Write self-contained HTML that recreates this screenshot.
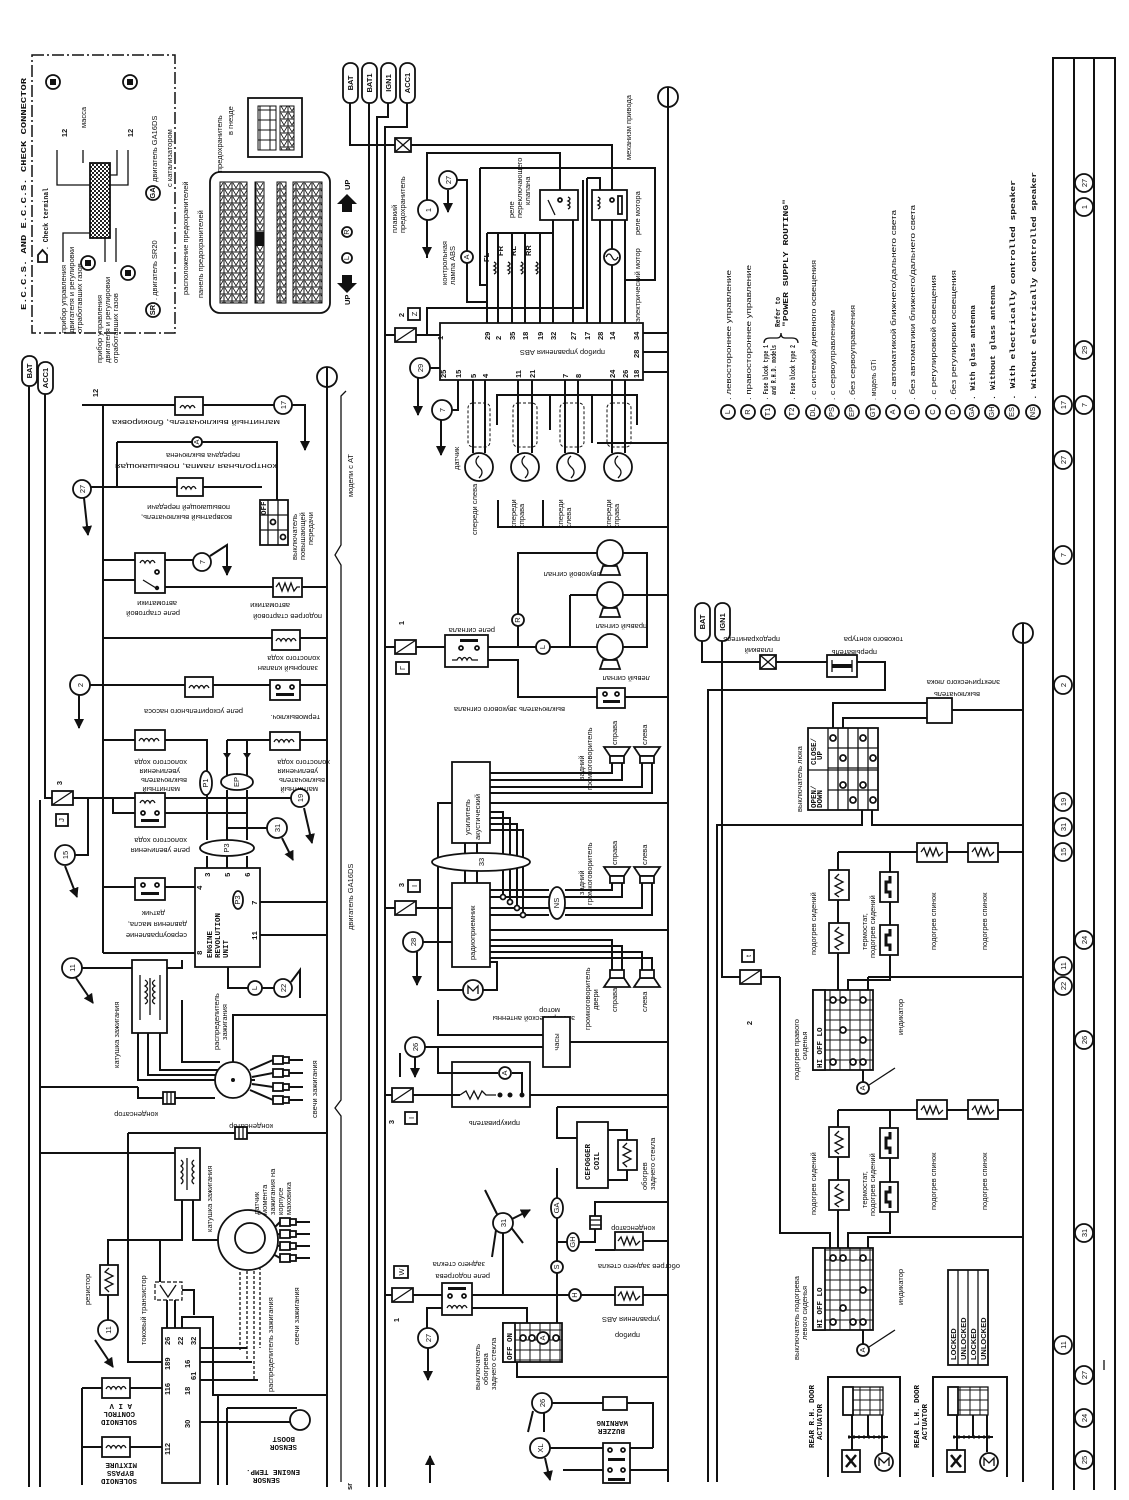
<!DOCTYPE html>
<html><head><meta charset="utf-8">
<style>
html,body{margin:0;padding:0;background:#fff;}
svg{display:block}
text{font-family:"Liberation Sans","DejaVu Sans",sans-serif;font-size:7.5px;fill:#111}
.m{font-family:"Liberation Mono","DejaVu Sans Mono",monospace;font-weight:bold}
.b{font-weight:bold}
.w{fill:none;stroke:#111;stroke-width:2}
.t{fill:none;stroke:#111;stroke-width:1.3}
.f{fill:#fff;stroke:#111;stroke-width:1.8}
.k{fill:#111;stroke:none}
</style></head><body>
<svg xmlns="http://www.w3.org/2000/svg" width="1129" height="1500" viewBox="0 0 1129 1500">
<defs>
<marker id="ar" viewBox="0 0 10 10" refX="9" refY="5" markerWidth="5" markerHeight="5" orient="auto"><path d="M0,0 L10,5 L0,10 z" fill="#111"/></marker>
<pattern id="chk" width="4" height="4" patternUnits="userSpaceOnUse"><rect width="4" height="4" fill="#fff"/><rect width="2" height="2" fill="#222"/><rect x="2" y="2" width="2" height="2" fill="#222"/></pattern>
<pattern id="grd" width="8" height="7" patternUnits="userSpaceOnUse"><rect width="8" height="7" fill="#fff" stroke="#111" stroke-width="1"/><path d="M1,1 L4,6 L7,1" fill="none" stroke="#111" stroke-width="0.8"/></pattern>
<pattern id="cel" width="10" height="10" patternUnits="userSpaceOnUse"><rect width="10" height="10" fill="#fff" stroke="#111" stroke-width="1"/></pattern>
</defs>
<rect width="1129" height="1500" fill="#fff"/>

<!-- ============ ECCS CHECK CONNECTOR ============ -->
<text class="m" transform="translate(26,310) rotate(-90)" textLength="232" lengthAdjust="spacingAndGlyphs" font-size="9">E.C.C.S. AND E.C.C.S. CHECK CONNECTOR</text>
<rect x="32" y="55" width="143" height="278" fill="none" stroke="#111" stroke-width="1.5" stroke-dasharray="12,3,2,3"/>
<path d="M38,262 h9 v-7 l-4.5,-5 l-4.5,5 z" class="f"/>
<text class="m" transform="translate(48,250) rotate(-90)" textLength="62" lengthAdjust="spacingAndGlyphs" font-size="7">. Check terminal</text>
<rect x="90" y="163" width="20" height="75" fill="url(#chk)" stroke="#111" stroke-width="1.8"/>
<path class="t" d="M57,150V185H90 M83,150V163 M117,150V175H110 M128,150V185H110 M63,262V233H90 M105,238V262 M116,228V262"/>
<text class="b" transform="translate(67,133) rotate(-90)" text-anchor="middle" font-size="14">12</text>
<text transform="translate(86,128) rotate(-90)" font-size="7.5">масса</text>
<text class="b" transform="translate(133,133) rotate(-90)" text-anchor="middle" font-size="14">12</text>
<circle cx="53" cy="82" r="7" class="f"/><rect x="50" y="79" width="6" height="6" class="k"/>
<circle cx="130" cy="82" r="7" class="f"/><rect x="127" y="79" width="6" height="6" class="k"/>
<circle cx="88" cy="263" r="7" class="f"/><rect x="85" y="260" width="6" height="6" class="k"/>
<circle cx="128" cy="273" r="7" class="f"/><rect x="125" y="270" width="6" height="6" class="k"/>
<text transform="translate(66,333) rotate(-90)" font-size="7.5">прибор управления</text>
<text transform="translate(74,333) rotate(-90)" font-size="7.5">двигателя и регулировки</text>
<text transform="translate(82,333) rotate(-90)" font-size="7.5">отработавших газов</text>
<text transform="translate(102,363) rotate(-90)" font-size="7.5">прибор управления</text>
<text transform="translate(110,363) rotate(-90)" font-size="7.5">двигателя и регулировки</text>
<text transform="translate(118,363) rotate(-90)" font-size="7.5">отработавших газов</text>
<circle cx="153" cy="310" r="7" class="f"/><text class="b" transform="translate(155,310) rotate(-90)" text-anchor="middle" font-size="5">SR</text>
<text transform="translate(157,300) rotate(-90)" font-size="8.5">. двигатель SR20</text>
<circle cx="153" cy="193" r="7" class="f"/><text class="b" transform="translate(155,193) rotate(-90)" text-anchor="middle" font-size="5">GA</text>
<text transform="translate(157,182) rotate(-90)" font-size="8.5">двигатель GA16DS</text>
<text transform="translate(172,187) rotate(-90)" font-size="11">с катализатором</text>

<!-- ============ FUSE PANEL ============ -->
<text transform="translate(222,172) rotate(-90)" font-size="7.5">предохранитель</text>
<text transform="translate(233,135) rotate(-90)" font-size="7.5">в гнезде</text>
<rect x="248" y="98" width="54" height="59" class="f"/>
<rect x="258" y="106" width="18" height="44" fill="url(#cel)" stroke="#111"/>
<rect x="280" y="106" width="14" height="44" fill="url(#grd)" stroke="#111"/>
<text transform="translate(188,295) rotate(-90)" font-size="7.5">расположение предохранителей</text>
<text transform="translate(203,298) rotate(-90)" font-size="7.5">панель предохранителей</text>
<rect x="210" y="172" width="120" height="141" rx="10" class="f"/>
<rect x="220" y="182" width="27" height="121" fill="url(#grd)" stroke="#111"/>
<rect x="255" y="182" width="9" height="121" fill="url(#grd)" stroke="#111"/>
<rect x="255" y="232" width="9" height="14" class="k"/>
<rect x="277" y="182" width="9" height="121" fill="url(#grd)" stroke="#111"/>
<rect x="293" y="182" width="29" height="121" fill="url(#grd)" stroke="#111"/>
<text class="b" transform="translate(350,305) rotate(-90)" font-size="6">UP</text>
<path d="M342,283 h10 v-8 h5 l-10,-10 l-10,10 h5z" transform="rotate(180 347 279)" class="k"/>
<circle cx="347" cy="258" r="5" class="f"/><text transform="translate(349,258) rotate(-90)" text-anchor="middle" font-size="5">L</text>
<circle cx="347" cy="232" r="5" class="f"/><text transform="translate(349,232) rotate(-90)" text-anchor="middle" font-size="5">R</text>
<path d="M342,212 h10 v-8 h5 l-10,-10 l-10,10 h5z" class="k"/>
<text class="b" transform="translate(350,190) rotate(-90)" font-size="6">UP</text>

<!-- ============ LEFT BUS ============ -->
<rect x="22" y="356" width="15" height="30" rx="7" class="f"/><text class="b" transform="translate(32,371) rotate(-90)" text-anchor="middle" font-size="7">BAT</text>
<rect x="38" y="362" width="15" height="32" rx="7" class="f"/><text class="b" transform="translate(48,378) rotate(-90)" text-anchor="middle" font-size="7">ACC1</text>
<g class="w">
<path d="M29,386V1487 M45,394V798H52 M40,800V1487"/>
<path class="t" d="M346,391 L341,396 V545 L335,555 L341,565 V1100 L335,1108 L341,1116 V1482"/>
<path d="M327,387V1487"/>
</g>
<circle cx="327" cy="377" r="10" class="f"/><path d="M327,367V387" class="w"/>
<text transform="translate(353,497) rotate(-90)" font-size="8.5">модели с AT</text>
<text transform="translate(353,930) rotate(-90)" font-size="8.5">двигатель GA16DS</text>
<text class="b" transform="translate(352,1490) rotate(-90)" font-size="6">sr</text>

<!-- ============ AT SECTION ============ -->
<text class="b" transform="translate(98,393) rotate(-90)" text-anchor="middle" font-size="14">12</text>
<g class="w">
<path d="M82,405H175 M203,405H274 M292,405H305V450" marker-end="url(#ar)"/>
<path d="M103,405V953 M117,442V487 M117,442H277V500 M90,487H177 M203,487H262"/>
<path d="M84,498L88,535" marker-end="url(#ar)"/>
</g>
<rect x="175" y="397" width="28" height="18" class="f"/><path class="t" d="M180,408q2.5,-5 5,0q2.5,-5 5,0q2.5,-5 5,0"/>
<circle cx="283" cy="405" r="9" class="f"/><text transform="translate(286,405) rotate(-90)" text-anchor="middle" font-size="8">17</text>
<text transform="translate(280,420) rotate(180)" textLength="168" lengthAdjust="spacingAndGlyphs">магнитный выключатель, блокировка</text>
<circle cx="197" cy="442" r="5" class="f"/><text transform="translate(199,442) rotate(-90)" text-anchor="middle" font-size="5">A</text>
<text transform="translate(240,453) rotate(180)">передача выключена</text>
<text transform="translate(277,464) rotate(180)" textLength="162" lengthAdjust="spacingAndGlyphs">контрольная лампа, повышающая</text>
<rect x="177" y="478" width="26" height="18" class="f"/><path class="t" d="M181,489q2.5,-5 5,0q2.5,-5 5,0q2.5,-5 5,0"/>
<circle cx="82" cy="489" r="9" class="f"/><text transform="translate(85,489) rotate(-90)" text-anchor="middle" font-size="8">27</text>
<text transform="translate(230,505) rotate(180)">повышающей передачи</text>
<text transform="translate(232,515) rotate(180)">возвратный выключатель,</text>
<rect x="260" y="500" width="28" height="45" class="f"/><path class="t" d="M268,500V545 M278,500V545 M260,515H288 M260,530H288"/>
<circle cx="273" cy="522" r="2.5" class="f"/><circle cx="283" cy="537" r="2.5" class="f"/>
<text class="m" transform="translate(266,515) rotate(-90)" font-size="5">OFF</text>
<text transform="translate(297,560) rotate(-90)" font-size="7">выключатель</text>
<text transform="translate(305,560) rotate(-90)" font-size="7">повышающей</text>
<text transform="translate(313,545) rotate(-90)" font-size="7">передачи</text>

<!-- ============ ENGINE SECTION ============ -->
<g class="w">
<path d="M103,560H135 M165,560H193 M103,580H135 M165,587H273 M302,587H327"/>
<path d="M210,556L227,545V575" marker-end="url(#ar)"/>
<path d="M103,638H272 M300,638H327"/>
<path d="M90,685H185 M213,685H270 M300,685H327"/>
<path d="M79,695V728" marker-end="url(#ar)"/>
<path d="M103,740H135 M165,740H207V775 M207,791V840 M227,740H270 M300,740H327 M227,740V775 M247,740V775 M227,790V840 M247,790V840"/>
<path d="M73,798H135 M165,798H291 M113,798V813H135 M165,813H247"/>
<path d="M88,798V855H75 M65,866L77,897" marker-end="url(#ar)"/>
<path d="M227,828H267 M282,838L293,860" marker-end="url(#ar)"/>
<path d="M304,808L312,843" marker-end="url(#ar)"/>
<path d="M207,856V868 M227,856V868 M247,856V868"/>
<path d="M103,887H135 M165,887H195 M260,902H327 M260,935H327 M103,953H195"/>
<path d="M228,967V988H248 M262,988H274 M291,982L300,970V998" />
<path d="M82,968H182V960"/>
<path d="M76,978L93,1003" marker-end="url(#ar)"/>
</g>
<rect x="135" y="553" width="30" height="40" class="f"/>
<path class="t" d="M140,563q2.5,-5 5,0q2.5,-5 5,0q2.5,-5 5,0 M143,580L156,588"/><circle cx="157" cy="572" r="2" class="f"/><circle cx="157" cy="588" r="2.2" class="k"/>
<circle cx="202" cy="562" r="9" class="f"/><text transform="translate(205,562) rotate(-90)" text-anchor="middle" font-size="8">7</text>
<text transform="translate(180,611) rotate(180)">реле стартовой</text>
<text transform="translate(177,601) rotate(180)">автоматики</text>
<rect x="273" y="578" width="29" height="19" class="f"/><polyline class="t" points="276,587 279,583 282,591 285,583 288,591 291,583 294,591 297,587 300,587"/>
<text transform="translate(290,603) rotate(180)">автоматики</text>
<text transform="translate(322,614) rotate(180)">подогрев стартовой</text>
<rect x="272" y="630" width="28" height="20" class="f"/><path class="t" d="M276,641q2.5,-5 5,0q2.5,-5 5,0q2.5,-5 5,0q2.5,-5 5,0"/>
<text transform="translate(320,656) rotate(180)">холостого хода</text>
<text transform="translate(318,666) rotate(180)">запорный клапан</text>
<circle cx="80" cy="685" r="10" class="f"/><text transform="translate(83,685) rotate(-90)" text-anchor="middle" font-size="9">2</text>
<rect x="185" y="677" width="28" height="20" class="f"/><path class="t" d="M189,688q2.5,-5 5,0q2.5,-5 5,0q2.5,-5 5,0q2.5,-5 5,0"/>
<rect x="270" y="680" width="30" height="20" class="f"/><circle cx="278" cy="687" r="2" class="f"/><circle cx="292" cy="687" r="2" class="f"/><rect x="276" y="693" width="18" height="3" class="k"/>
<text transform="translate(243,709) rotate(180)">реле ускорительного насоса</text>
<text transform="translate(320,715) rotate(180)">термовыключ.</text>
<rect x="135" y="730" width="30" height="20" class="f"/><path class="t" d="M139,741q2.5,-5 5,0q2.5,-5 5,0q2.5,-5 5,0q2.5,-5 5,0"/>
<rect x="270" y="732" width="30" height="18" class="f"/><path class="t" d="M274,742q2.5,-5 5,0q2.5,-5 5,0q2.5,-5 5,0q2.5,-5 5,0"/>
<path d="M223,753h8l-4,6z M243,753h8l-4,6z" class="k"/>
<text transform="translate(187,760) rotate(180)">холостого хода</text>
<text transform="translate(180,769) rotate(180)">увеличения</text>
<text transform="translate(187,778) rotate(180)">выключатель</text>
<text transform="translate(180,787) rotate(180)">магнитный</text>
<text transform="translate(330,760) rotate(180)">холостого хода</text>
<text transform="translate(318,769) rotate(180)">увеличения</text>
<text transform="translate(325,778) rotate(180)">выключатель</text>
<text transform="translate(318,787) rotate(180)">магнитный</text>
<ellipse cx="206" cy="783" rx="6" ry="12" class="f"/><text transform="translate(208,783) rotate(-90)" text-anchor="middle" font-size="5">P1</text>
<ellipse cx="237" cy="782" rx="16" ry="8" class="f"/><text transform="translate(239,782) rotate(-90)" text-anchor="middle" font-size="5">EP</text>
<ellipse cx="227" cy="848" rx="27" ry="8" class="f"/><text transform="translate(229,848) rotate(-90)" text-anchor="middle" font-size="5">P3</text>
<rect x="52" y="791" width="21" height="14" class="f"/><path class="t" d="M52,805L73,791"/>
<text class="b" transform="translate(62,783) rotate(-90)" text-anchor="middle" font-size="13">3</text>
<rect x="56" y="814" width="12" height="12" class="f"/><text transform="translate(64,820) rotate(-90)" text-anchor="middle" font-size="7">J</text>
<circle cx="300" cy="798" r="9" class="f"/><text transform="translate(303,798) rotate(-90)" text-anchor="middle" font-size="8">19</text>
<rect x="135" y="793" width="30" height="34" class="f"/><path class="t" d="M140,803q2.5,-5 5,0q2.5,-5 5,0q2.5,-5 5,0"/><circle cx="143" cy="813" r="2" class="f"/><circle cx="157" cy="813" r="2" class="f"/><rect x="141" y="819" width="18" height="3" class="k"/>
<circle cx="65" cy="855" r="10" class="f"/><text transform="translate(68,855) rotate(-90)" text-anchor="middle" font-size="8">15</text>
<circle cx="277" cy="828" r="10" class="f"/><text transform="translate(280,828) rotate(-90)" text-anchor="middle" font-size="8">31</text>
<text transform="translate(187,838) rotate(180)">холостого хода</text>
<text transform="translate(190,848) rotate(180)">реле увеличения</text>
<rect x="195" y="868" width="65" height="99" class="f"/>
<text class="m" transform="translate(212,958) rotate(-90)" font-size="7">ENGINE</text>
<text class="m" transform="translate(220,958) rotate(-90)" font-size="7">REVOLUTION</text>
<text class="m" transform="translate(228,958) rotate(-90)" font-size="7">UNIT</text>
<ellipse cx="238" cy="900" rx="5" ry="9" class="f"/><text transform="translate(240,900) rotate(-90)" text-anchor="middle" font-size="4.5">P3</text>
<text class="m" transform="translate(210,877) rotate(-90)" font-size="6">3</text><text class="m" transform="translate(230,877) rotate(-90)" font-size="6">5</text><text class="m" transform="translate(250,877) rotate(-90)" font-size="6">6</text>
<text class="m" transform="translate(202,890) rotate(-90)" font-size="6">4</text><text class="m" transform="translate(257,905) rotate(-90)" font-size="6">7</text><text class="m" transform="translate(257,940) rotate(-90)" font-size="6">11</text><text class="m" transform="translate(202,955) rotate(-90)" font-size="6">8</text>
<rect x="135" y="878" width="30" height="22" class="f"/><circle cx="143" cy="885" r="2" class="f"/><circle cx="157" cy="885" r="2" class="f"/><rect x="141" y="892" width="18" height="3" class="k"/>
<text transform="translate(165,911) rotate(180)">датчик</text>
<text transform="translate(187,922) rotate(180)">давления масла,</text>
<text transform="translate(187,933) rotate(180)">сервоуправление</text>
<circle cx="255" cy="988" r="7" class="f"/><text transform="translate(257,988) rotate(-90)" text-anchor="middle" font-size="6">L</text>
<circle cx="283" cy="988" r="9" class="f"/><text transform="translate(286,988) rotate(-90)" text-anchor="middle" font-size="8">22</text>
<circle cx="72" cy="968" r="10" class="f"/><text transform="translate(75,968) rotate(-90)" text-anchor="middle" font-size="8">11</text>

<!-- ============ IGNITION ============ -->
<g class="w">
<path d="M138,1033V1080H215 M148,1033V1075H216 M160,1033V1070H218 M182,1000V1062H220"/>
<path d="M40,1087H138 M138,1087V1098H163 M175,1098H215"/>
<path d="M233,1062V1015H327"/>
<path d="M128,1133H235 M247,1133H327 M128,1133V1362H162"/>
<path d="M40,1153H182V1148"/>
<path d="M182,1200V1240H108V1265 M193,1200V1240H222 M160,1240V1282"/>
<path d="M108,1295V1320 M95,1340L113,1367" marker-end="url(#ar)"/>
<path d="M167,1300V1328 M175,1300V1328"/>
<path d="M182,1328V1317H213V1395H327 M194,1315V1290H182"/>
<path d="M200,1348H247 M200,1362H252 M200,1380H258 M227,1408H297 M200,1422H290"/>
<path d="M82,1388V1485 M82,1388H102 M130,1388H162 M82,1447H102 M130,1447H162"/>
<path d="M218,1395V1485 M227,1408V1485"/>
<path d="M245,1080H255 M250,1070L273,1060 M252,1077L273,1073 M252,1084L273,1087 M250,1090L273,1100"/>
<path d="M262,1240L280,1222 M266,1236L280,1234 M266,1244L280,1246 M262,1248L280,1258"/>
</g>
<path class="t" stroke-dasharray="3,2" d="M240,1262V1350 M247,1266V1362 M254,1266V1380 M260,1262V1348"/>
<rect x="132" y="960" width="35" height="73" class="f"/>
<path class="t" d="M140,975V1020 M145,980q5,3 0,6q5,3 0,6q5,3 0,6q5,3 0,6 M155,980q-5,3 0,6q-5,3 0,6q-5,3 0,6q-5,3 0,6 M160,975V1020 M150,978V1015"/>
<text transform="translate(119,1068) rotate(-90)">катушка зажигания</text>
<circle cx="233" cy="1080" r="18" class="f"/><circle cx="233" cy="1080" r="2" class="k"/>
<text transform="translate(219,1050) rotate(-90)">распределитель</text>
<text transform="translate(227,1040) rotate(-90)">зажигания</text>
<g class="f"><rect x="273" y="1056" width="10" height="8"/><rect x="283" y="1057" width="6" height="6"/><rect x="273" y="1069" width="10" height="8"/><rect x="283" y="1070" width="6" height="6"/><rect x="273" y="1083" width="10" height="8"/><rect x="283" y="1084" width="6" height="6"/><rect x="273" y="1096" width="10" height="8"/><rect x="283" y="1097" width="6" height="6"/></g>
<path class="w" d="M289,1060H303 M289,1073H303 M289,1087H303 M289,1100H303"/>
<text transform="translate(317,1118) rotate(-90)">свечи зажигания</text>
<rect x="163" y="1092" width="12" height="12" class="f"/><path class="t" d="M167,1092V1104 M171,1092V1104"/>
<text transform="translate(158,1112) rotate(180)">конденсатор</text>
<rect x="235" y="1127" width="12" height="12" class="f"/><path class="t" d="M239,1127V1139 M243,1127V1139"/>
<text transform="translate(273,1124) rotate(180)">конденсатор</text>
<rect x="175" y="1148" width="25" height="52" class="f"/>
<path class="t" d="M181,1160q4,3 0,6q4,3 0,6q4,3 0,6q4,3 0,6 M194,1160q-4,3 0,6q-4,3 0,6q-4,3 0,6q-4,3 0,6 M187,1158V1190"/>
<text transform="translate(212,1232) rotate(-90)">катушка зажигания</text>
<circle cx="248" cy="1240" r="30" class="f"/><circle cx="250" cy="1238" r="15" class="f"/>
<text transform="translate(259,1215) rotate(-90)" font-size="7">датчик</text>
<text transform="translate(267,1215) rotate(-90)" font-size="7">момента</text>
<text transform="translate(275,1215) rotate(-90)" font-size="7">зажигания на</text>
<text transform="translate(283,1215) rotate(-90)" font-size="7">корпусе</text>
<text transform="translate(291,1215) rotate(-90)" font-size="7">маховика</text>
<g class="f"><rect x="280" y="1218" width="10" height="8"/><rect x="290" y="1219" width="6" height="6"/><rect x="280" y="1230" width="10" height="8"/><rect x="290" y="1231" width="6" height="6"/><rect x="280" y="1242" width="10" height="8"/><rect x="290" y="1243" width="6" height="6"/><rect x="280" y="1254" width="10" height="8"/><rect x="290" y="1255" width="6" height="6"/></g>
<path class="w" d="M296,1222H310 M296,1234H310 M296,1246H310 M296,1258H310"/>
<text transform="translate(299,1345) rotate(-90)">свечи зажигания</text>
<text transform="translate(273,1392) rotate(-90)">распределитель зажигания</text>
<rect x="100" y="1265" width="18" height="30" class="f"/><polyline class="t" points="109,1268 105,1272 113,1276 105,1280 113,1284 105,1288 109,1292"/>
<text transform="translate(90,1305) rotate(-90)">резистор</text>
<circle cx="108" cy="1330" r="10" class="f"/><text transform="translate(111,1330) rotate(-90)" text-anchor="middle" font-size="8">11</text>
<rect x="155" y="1282" width="27" height="18" fill="#fff" stroke="#111" stroke-width="1.2" stroke-dasharray="4,2"/><path class="t" d="M160,1285L168,1297L176,1285"/>
<text transform="translate(146,1345) rotate(-90)">токовый транзистор</text>
<rect x="162" y="1328" width="38" height="155" class="f"/>
<g class="m" font-size="6">
<text transform="translate(170,1345) rotate(-90)">26</text><text transform="translate(183,1345) rotate(-90)">22</text><text transform="translate(196,1345) rotate(-90)">32</text>
<text transform="translate(170,1370) rotate(-90)">189</text><text transform="translate(190,1368) rotate(-90)">16</text><text transform="translate(196,1380) rotate(-90)">61</text>
<text transform="translate(170,1395) rotate(-90)">116</text><text transform="translate(190,1395) rotate(-90)">18</text>
<text transform="translate(190,1428) rotate(-90)">30</text><text transform="translate(170,1455) rotate(-90)">112</text>
</g>
<circle cx="300" cy="1420" r="10" class="f"/>
<text class="m" transform="translate(295,1437) rotate(180)" font-size="6">BOOST</text>
<text class="m" transform="translate(297,1445) rotate(180)" font-size="6">SENSOR</text>
<text class="m" transform="translate(300,1470) rotate(180)" font-size="6">ENGINE TEMP.</text>
<text class="m" transform="translate(280,1478) rotate(180)" font-size="6">SENSOR</text>
<rect x="102" y="1378" width="28" height="20" class="f"/><path class="t" d="M106,1389q2.5,-5 5,0q2.5,-5 5,0q2.5,-5 5,0q2.5,-5 5,0"/>
<text class="m" transform="translate(132,1404) rotate(180)" font-size="6">A I V</text>
<text class="m" transform="translate(135,1412) rotate(180)" font-size="6">CONTROL</text>
<text class="m" transform="translate(137,1420) rotate(180)" font-size="6">SOLENOID</text>
<rect x="102" y="1437" width="28" height="20" class="f"/><path class="t" d="M106,1448q2.5,-5 5,0q2.5,-5 5,0q2.5,-5 5,0q2.5,-5 5,0"/>
<text class="m" transform="translate(137,1463) rotate(180)" font-size="6">MIXTURE</text>
<text class="m" transform="translate(134,1471) rotate(180)" font-size="6">BYPASS</text>
<text class="m" transform="translate(137,1479) rotate(180)" font-size="6">SOLENOID</text>

<!-- ============ MIDDLE BUS ============ -->
<rect x="343" y="63" width="15" height="40" rx="7" class="f"/><text class="b" transform="translate(353,83) rotate(-90)" text-anchor="middle" font-size="7">BAT</text>
<rect x="362" y="63" width="15" height="40" rx="7" class="f"/><text class="b" transform="translate(372,83) rotate(-90)" text-anchor="middle" font-size="7">BAT1</text>
<rect x="381" y="63" width="15" height="40" rx="7" class="f"/><text class="b" transform="translate(391,83) rotate(-90)" text-anchor="middle" font-size="7">IGN1</text>
<rect x="400" y="63" width="15" height="40" rx="7" class="f"/><text class="b" transform="translate(410,83) rotate(-90)" text-anchor="middle" font-size="7">ACC1</text>
<g class="w">
<path d="M350,103V145H395 M411,145H612V190 M369,103V1487 M388,103V117H377V1487 M407,103V127H385V1487"/>
<path d="M668,107V1482"/>
</g>
<circle cx="668" cy="97" r="10" class="f"/><path d="M668,87V107" class="w"/>

<!-- ============ ABS ============ -->
<rect x="395" y="138" width="16" height="14" class="f"/><path class="t" d="M395,138L411,152 M411,138L395,152"/>
<text transform="translate(397,233) rotate(-90)">плавкий</text>
<text transform="translate(405,233) rotate(-90)">предохранитель</text>
<g class="w">
<path d="M427,258V153H560V190"/>
<path d="M427,240V256" marker-end="url(#ar)"/>
<path d="M448,190V212" marker-end="url(#ar)"/>
<path d="M457,180H467V251 M467,263V302H487"/>
<path d="M487,233V323 M487,233H553 M498,233V323 M512,233V323 M525,233V323 M540,233V323 M553,220V323 M573,220V323 M587,178V323 M600,220V323 M612,220V251 M612,263V323 M625,220V323"/>
<path d="M480,168H655V280H625 M480,168V285H487"/>
<path d="M587,178H600V190"/>
<path d="M384,335H395 M416,335H440 M427,335V308H583V180"/>
<path d="M430,368H440 M418,378V415" marker-end="url(#ar)"/>
<path d="M452,410H458V380 M441,420V455" marker-end="url(#ar)"/>
<path d="M643,333H668 M643,352H668 M643,372H668"/>
<path d="M473,380V453 M485,380V453 M518,380V453 M532,380V453 M565,380V453 M578,380V453 M612,380V453 M625,380V453"/>
<path d="M497,425V395H637V425 M550,395V430 M637,443H668 M597,443H637 M592,395V443"/>
<path d="M498,500V527H668 M543,500V527"/>
</g>
<circle cx="428" cy="210" r="10" class="f"/><text transform="translate(431,210) rotate(-90)" text-anchor="middle" font-size="8">1</text>
<circle cx="448" cy="180" r="9" class="f"/><text transform="translate(451,180) rotate(-90)" text-anchor="middle" font-size="8">27</text>
<text transform="translate(447,285) rotate(-90)">контрольная</text>
<text transform="translate(455,285) rotate(-90)">лампа ABS</text>
<circle cx="467" cy="257" r="6" class="f"/><text transform="translate(469,257) rotate(-90)" text-anchor="middle" font-size="5">A</text>
<g class="t"><path d="M494,262q4,2 0,4q4,2 0,4q4,2 0,4 M508,262q4,2 0,4q4,2 0,4q4,2 0,4 M521,262q4,2 0,4q4,2 0,4q4,2 0,4 M536,262q4,2 0,4q4,2 0,4q4,2 0,4"/></g>
<text class="b" transform="translate(489,262) rotate(-90)" font-size="5">FL</text><text class="b" transform="translate(503,256) rotate(-90)" font-size="5">FR</text><text class="b" transform="translate(516,256) rotate(-90)" font-size="5">RL</text><text class="b" transform="translate(531,256) rotate(-90)" font-size="5">RR</text>
<rect x="540" y="190" width="38" height="30" class="f"/><path class="t" d="M548,200L555,215 M568,197q4,2 0,4q4,2 0,4q4,2 0,4"/><circle cx="560" cy="200" r="2" class="f"/>
<rect x="592" y="190" width="35" height="30" class="f"/><path class="t" d="M598,197q4,2 0,4q4,2 0,4q4,2 0,4"/><circle cx="612" cy="200" r="2" class="f"/><rect x="618" y="196" width="4" height="18" class="f"/>
<circle cx="612" cy="257" r="8" class="f"/><path class="t" d="M606,257q3,-6 6,0q3,6 6,0"/>
<text transform="translate(514,218) rotate(-90)">реле</text>
<text transform="translate(522,218) rotate(-90)">переключающего</text>
<text transform="translate(530,205) rotate(-90)">клапана</text>
<text transform="translate(631,160) rotate(-90)">механизм привода</text>
<text transform="translate(640,235) rotate(-90)">реле мотора</text>
<text transform="translate(640,322) rotate(-90)">электрический мотор</text>
<rect x="440" y="323" width="203" height="57" class="f"/>
<text transform="translate(605,350) rotate(180)" font-size="8">прибор управления ABS</text>
<g class="m" font-size="6">
<text transform="translate(443,340) rotate(-90)">1</text>
<text transform="translate(490,340) rotate(-90)">29</text><text transform="translate(501,340) rotate(-90)">2</text><text transform="translate(515,340) rotate(-90)">35</text><text transform="translate(528,340) rotate(-90)">18</text><text transform="translate(543,340) rotate(-90)">19</text><text transform="translate(556,340) rotate(-90)">32</text><text transform="translate(576,340) rotate(-90)">27</text><text transform="translate(590,340) rotate(-90)">17</text><text transform="translate(603,340) rotate(-90)">28</text><text transform="translate(615,340) rotate(-90)">14</text><text transform="translate(639,340) rotate(-90)">34</text><text transform="translate(639,358) rotate(-90)">28</text>
<text transform="translate(446,378) rotate(-90)">25</text><text transform="translate(461,378) rotate(-90)">15</text><text transform="translate(476,378) rotate(-90)">5</text><text transform="translate(488,378) rotate(-90)">4</text><text transform="translate(521,378) rotate(-90)">11</text><text transform="translate(535,378) rotate(-90)">21</text><text transform="translate(568,378) rotate(-90)">7</text><text transform="translate(581,378) rotate(-90)">8</text><text transform="translate(615,378) rotate(-90)">24</text><text transform="translate(628,378) rotate(-90)">26</text><text transform="translate(639,378) rotate(-90)">18</text>
</g>
<rect x="395" y="328" width="21" height="14" class="f"/><path class="t" d="M395,342L416,328"/>
<text class="b" transform="translate(404,315) rotate(-90)" text-anchor="middle" font-size="13">2</text>
<rect x="408" y="308" width="12" height="12" class="f"/><text transform="translate(417,314) rotate(-90)" text-anchor="middle" font-size="7">Z</text>
<circle cx="420" cy="368" r="10" class="f"/><text transform="translate(423,368) rotate(-90)" text-anchor="middle" font-size="8">29</text>
<circle cx="442" cy="410" r="10" class="f"/><text transform="translate(445,410) rotate(-90)" text-anchor="middle" font-size="8">7</text>
<g fill="none" stroke="#111" stroke-width="1" stroke-dasharray="3,2">
<rect x="468" y="403" width="22" height="44" rx="5"/><rect x="513" y="403" width="24" height="44" rx="5"/><rect x="560" y="403" width="24" height="44" rx="5"/><rect x="607" y="403" width="24" height="44" rx="5"/>
</g>
<g class="f"><circle cx="479" cy="467" r="14"/><circle cx="525" cy="467" r="14"/><circle cx="571" cy="467" r="14"/><circle cx="618" cy="467" r="14"/></g>
<path class="t" d="M479,456q-6,5 0,11q6,5 0,11 M525,456q-6,5 0,11q6,5 0,11 M571,456q-6,5 0,11q6,5 0,11 M618,456q-6,5 0,11q6,5 0,11"/>
<text transform="translate(459,470) rotate(-90)">датчик</text>
<text transform="translate(477,535) rotate(-90)">спереди слева</text>
<text transform="translate(516,528) rotate(-90)">спереди</text><text transform="translate(524,528) rotate(-90)">справа</text>
<text transform="translate(563,528) rotate(-90)">спереди</text><text transform="translate(571,528) rotate(-90)">слева</text>
<text transform="translate(611,528) rotate(-90)">спереди</text><text transform="translate(619,528) rotate(-90)">справа</text>

<!-- ============ HORN ============ -->
<g class="w">
<path d="M384,647H395 M416,647H445 M488,647H536 M550,647H597 M518,647V553H597 M623,553H647V647H623 M570,595H597 M570,595V647 M623,595H668"/>
<path d="M488,660H518V697H597 M625,697H668"/>
</g>
<g class="f"><circle cx="610" cy="553" r="13"/><circle cx="610" cy="595" r="13"/><circle cx="610" cy="647" r="13"/></g>
<path class="f" d="M603,566L600,575H620L617,566Z M603,608L600,617H620L617,608Z M603,660L600,669H620L617,660Z"/>
<text transform="translate(600,572) rotate(180)">звуковой сигнал</text>
<text transform="translate(647,624) rotate(180)">правый сигнал</text>
<text transform="translate(650,676) rotate(180)">левый сигнал</text>
<rect x="395" y="640" width="21" height="14" class="f"/><path class="t" d="M395,654L416,640"/>
<text class="b" transform="translate(404,623) rotate(-90)" text-anchor="middle" font-size="13">1</text>
<rect x="396" y="662" width="13" height="12" class="f"/><text transform="translate(405,668) rotate(-90)" text-anchor="middle" font-size="7">Г</text>
<rect x="445" y="635" width="43" height="32" class="f"/><rect x="460" y="639" width="18" height="3" class="k"/><circle cx="461" cy="648" r="2" class="f"/><circle cx="477" cy="648" r="2" class="f"/><path class="t" d="M452,660h5q2.5,-5 5,0q2.5,-5 5,0q2.5,-5 5,0h6"/>
<text transform="translate(495,628) rotate(180)">реле сигнала</text>
<circle cx="518" cy="620" r="6" class="f"/><text transform="translate(520,620) rotate(-90)" text-anchor="middle" font-size="5">R</text>
<circle cx="543" cy="647" r="7" class="f"/><text transform="translate(545,647) rotate(-90)" text-anchor="middle" font-size="6">L</text>
<rect x="597" y="688" width="28" height="20" class="f"/><circle cx="605" cy="694" r="2" class="f"/><circle cx="617" cy="694" r="2" class="f"/><rect x="603" y="700" width="17" height="3" class="k"/>
<text transform="translate(565,707) rotate(180)">выключатель звукового сигнала</text>

<!-- ============ AUDIO ============ -->
<g class="w">
<path d="M490,803H668 M384,908H395 M416,908H452 M438,908V803H452"/>
<path d="M490,773H612V763 M490,780H622V763 M490,787H642V763 M490,793H652V763"/>
<path d="M465,843V883 M477,843V883"/>
<path d="M490,812H503V897 M490,818H510V902 M490,824H517V908 M490,830H523V915"/>
<path d="M490,890H549 M565,890H612V883 M490,897H549 M565,897H622V883 M490,908H549 M565,908H642V883 M490,915H549 M565,915H652V883"/>
<path d="M490,930H668"/>
<path d="M490,940H612V970 M490,946H622V970 M490,952H642V970 M490,958H652V970"/>
<path d="M423,942H452 M438,908V990H463 M483,990H497V962H490"/>
<path d="M417,952V985" marker-end="url(#ar)"/>
</g>
<g class="f">
<path d="M604,747H630L624,756H610Z"/><rect x="610" y="756" width="14" height="7"/>
<path d="M634,747H660L654,756H640Z"/><rect x="640" y="756" width="14" height="7"/>
<path d="M604,867H630L624,876H610Z"/><rect x="610" y="876" width="14" height="7"/>
<path d="M634,867H660L654,876H640Z"/><rect x="640" y="876" width="14" height="7"/>
<path d="M604,987H630L624,978H610Z"/><rect x="610" y="970" width="14" height="8"/>
<path d="M634,987H660L654,978H640Z"/><rect x="640" y="970" width="14" height="8"/>
</g>
<text transform="translate(584,780) rotate(-90)">задний</text>
<text transform="translate(592,790) rotate(-90)">громкоговоритель</text>
<text transform="translate(617,745) rotate(-90)">справа</text>
<text transform="translate(647,745) rotate(-90)">слева</text>
<text transform="translate(584,895) rotate(-90)">задний</text>
<text transform="translate(592,905) rotate(-90)">громкоговоритель</text>
<text transform="translate(617,865) rotate(-90)">справа</text>
<text transform="translate(647,865) rotate(-90)">слева</text>
<rect x="452" y="762" width="38" height="81" class="f"/>
<text transform="translate(470,835) rotate(-90)" font-size="8">усилитель</text>
<text transform="translate(480,840) rotate(-90)" font-size="8">акустический</text>
<ellipse cx="481" cy="862" rx="49" ry="9" class="f"/><text transform="translate(484,862) rotate(-90)" text-anchor="middle" font-size="6">33</text>
<g class="f"><circle cx="503" cy="897" r="2.5"/><circle cx="510" cy="902" r="2.5"/><circle cx="517" cy="908" r="2.5"/><circle cx="523" cy="915" r="2.5"/></g>
<rect x="452" y="883" width="38" height="84" class="f"/>
<text transform="translate(475,960) rotate(-90)" font-size="8">радиоприемник</text>
<ellipse cx="557" cy="903" rx="8" ry="16" class="f"/><text transform="translate(559,903) rotate(-90)" text-anchor="middle" font-size="5">NS</text>
<rect x="395" y="901" width="21" height="14" class="f"/><path class="t" d="M395,915L416,901"/>
<text class="b" transform="translate(404,885) rotate(-90)" text-anchor="middle" font-size="13">3</text>
<rect x="408" y="880" width="12" height="12" class="f"/><text transform="translate(417,886) rotate(-90)" text-anchor="middle" font-size="7">I</text>
<circle cx="413" cy="942" r="10" class="f"/><text transform="translate(416,942) rotate(-90)" text-anchor="middle" font-size="8">28</text>
<circle cx="473" cy="990" r="10" class="f"/><path class="t" d="M468,994V986L473,991L478,986V994"/>
<text transform="translate(560,1008) rotate(180)">мотор</text>
<text transform="translate(575,1016) rotate(180)">электрической антенны</text>
<text transform="translate(590,1030) rotate(-90)">громкоговоритель</text>
<text transform="translate(598,1010) rotate(-90)">двери</text>
<text transform="translate(617,1012) rotate(-90)">справа</text>
<text transform="translate(647,1012) rotate(-90)">слева</text>

<!-- ============ CLOCK / LIGHTER / DEFOG ============ -->
<g class="w">
<path d="M438,1000V1035H543 M570,1042H668 M425,1047H543"/>
<path d="M438,1047V1073H498 M512,1073H522V1095"/>
<path d="M400,1053V1077 M415,1057V1077" marker-end="url(#ar)"/>
<path d="M384,1095H392 M413,1095H460 M530,1095H668"/>
<path d="M557,1107H668 M557,1107V1138H577 M608,1130H627V1140 M627,1170V1180H608 M557,1168V1198 M557,1218V1261 M557,1273V1323"/>
<path d="M557,1242H567 M579,1242H595V1228 M595,1217V1202H668 M595,1250H615 M643,1241H668"/>
<path d="M557,1295H569 M581,1295H615 M643,1295H668"/>
<path d="M384,1295H392 M413,1295H442 M472,1295H557 M503,1295V1233"/>
<path d="M498,1216L485,1190 M496,1230L492,1257 M510,1226L523,1243 M510,1220L530,1210" marker-end="url(#ar)"/>
<path d="M442,1308H427V1328 M472,1308H527V1323 M428,1348V1380" marker-end="url(#ar)"/>
<path d="M517,1362V1377H668"/>
<path d="M552,1403H603 M627,1403H653V1448 M550,1448H603 M630,1448H653 M563,1470H603 M630,1470H668"/>
<path d="M533,1411L528,1432 M544,1413V1432 M545,1458L550,1480" marker-end="url(#ar)"/>
<path d="M430,1483V1456" marker-end="url(#ar)"/>
</g>
<rect x="543" y="1017" width="27" height="50" class="f"/><text transform="translate(559,1042) rotate(-90)" text-anchor="middle" font-size="7">часы</text>
<circle cx="415" cy="1047" r="10" class="f"/><text transform="translate(418,1047) rotate(-90)" text-anchor="middle" font-size="8">26</text>
<rect x="452" y="1062" width="78" height="45" fill="none" stroke="#111" stroke-width="1.8"/>
<polyline class="t" points="460,1095 466,1091 470,1099 474,1091 478,1099 482,1091 486,1095 496,1095"/>
<circle cx="500" cy="1095" r="2.5" class="k"/><circle cx="510" cy="1095" r="2.5" class="k"/><circle cx="522" cy="1095" r="2.5" class="k"/>
<circle cx="505" cy="1073" r="6" class="f"/><text transform="translate(507,1073) rotate(-90)" text-anchor="middle" font-size="5">A</text>
<rect x="392" y="1088" width="21" height="14" class="f"/><path class="t" d="M392,1102L413,1088"/>
<text class="b" transform="translate(394,1122) rotate(-90)" text-anchor="middle" font-size="13">3</text>
<rect x="405" y="1112" width="12" height="12" class="f"/><text transform="translate(414,1118) rotate(-90)" text-anchor="middle" font-size="7">I</text>
<text transform="translate(520,1121) rotate(180)">прикуриватель</text>
<rect x="577" y="1122" width="31" height="66" class="f"/>
<text class="m" transform="translate(590,1180) rotate(-90)" font-size="7">CEFOGGER</text>
<text class="m" transform="translate(599,1170) rotate(-90)" font-size="7">COIL</text>
<rect x="618" y="1140" width="19" height="30" class="f"/><polyline class="t" points="627,1143 623,1147 631,1151 623,1155 631,1159 623,1163 627,1167"/>
<text transform="translate(647,1190) rotate(-90)">обогрев</text>
<text transform="translate(655,1190) rotate(-90)">заднего стекла</text>
<ellipse cx="557" cy="1208" rx="6" ry="10" class="f"/><text transform="translate(559,1208) rotate(-90)" text-anchor="middle" font-size="5">GA</text>
<ellipse cx="573" cy="1242" rx="6" ry="9" class="f"/><text transform="translate(575,1242) rotate(-90)" text-anchor="middle" font-size="5">GH</text>
<rect x="590" y="1216" width="11" height="13" class="f"/><path class="t" d="M590,1220H601 M590,1225H601"/>
<text transform="translate(655,1226) rotate(180)">конденсатор</text>
<rect x="615" y="1232" width="28" height="18" class="f"/><polyline class="t" points="618,1241 621,1237 624,1245 627,1237 630,1245 633,1237 636,1245 640,1241"/>
<text transform="translate(680,1264) rotate(180)">обогрев заднего стекла</text>
<circle cx="557" cy="1267" r="6" class="f"/><text transform="translate(559,1267) rotate(-90)" text-anchor="middle" font-size="5">S</text>
<circle cx="575" cy="1295" r="6" class="f"/><text transform="translate(577,1295) rotate(-90)" text-anchor="middle" font-size="5">H</text>
<rect x="615" y="1287" width="28" height="18" class="f"/><polyline class="t" points="618,1296 621,1292 624,1300 627,1292 630,1300 633,1292 636,1300 640,1296"/>
<text transform="translate(660,1317) rotate(180)">управления ABS</text>
<text transform="translate(640,1333) rotate(180)">прибор</text>
<rect x="392" y="1288" width="21" height="14" class="f"/><path class="t" d="M392,1302L413,1288"/>
<text class="b" transform="translate(399,1320) rotate(-90)" text-anchor="middle" font-size="13">1</text>
<rect x="394" y="1266" width="14" height="12" class="f"/><text transform="translate(404,1272) rotate(-90)" text-anchor="middle" font-size="7">W</text>
<rect x="442" y="1283" width="30" height="32" class="f"/><rect x="448" y="1287" width="18" height="3" class="k"/><circle cx="450" cy="1296" r="2" class="f"/><circle cx="464" cy="1296" r="2" class="f"/><path class="t" d="M447,1308q2.5,-5 5,0q2.5,-5 5,0q2.5,-5 5,0q2.5,-5 5,0"/>
<text transform="translate(485,1262) rotate(180)">заднего стекла</text>
<text transform="translate(490,1274) rotate(180)">реле подогрева</text>
<circle cx="503" cy="1223" r="10" class="f"/><text transform="translate(506,1223) rotate(-90)" text-anchor="middle" font-size="8">31</text>
<circle cx="428" cy="1338" r="10" class="f"/><text transform="translate(431,1338) rotate(-90)" text-anchor="middle" font-size="8">27</text>
<rect x="503" y="1323" width="59" height="39" fill="url(#cel)" stroke="#111" stroke-width="1.8"/>
<rect x="503" y="1323" width="12" height="39" class="f"/>
<text class="m" transform="translate(512,1360) rotate(-90)" font-size="5">OFF ON</text>
<g class="f"><circle cx="523" cy="1338" r="3"/><circle cx="532" cy="1338" r="3"/><circle cx="556" cy="1338" r="3"/></g>
<circle cx="543" cy="1338" r="6" class="f"/><text transform="translate(545,1338) rotate(-90)" text-anchor="middle" font-size="5">A</text>
<text transform="translate(480,1390) rotate(-90)">выключатель</text>
<text transform="translate(488,1385) rotate(-90)">обогрева</text>
<text transform="translate(496,1390) rotate(-90)">заднего стекла</text>
<circle cx="542" cy="1403" r="10" class="f"/><text transform="translate(545,1403) rotate(-90)" text-anchor="middle" font-size="8">26</text>
<rect x="603" y="1397" width="24" height="13" class="f"/>
<text class="m" transform="translate(628,1421) rotate(180)" font-size="6">WARNING</text>
<text class="m" transform="translate(625,1429) rotate(180)" font-size="6">BUZZER</text>
<circle cx="540" cy="1448" r="10" class="f"/><text transform="translate(543,1448) rotate(-90)" text-anchor="middle" font-size="8">XL</text>
<rect x="603" y="1443" width="27" height="40" class="f"/><circle cx="610" cy="1450" r="2" class="f"/><circle cx="623" cy="1450" r="2" class="f"/><rect x="608" y="1458" width="17" height="3" class="k"/><circle cx="610" cy="1470" r="2" class="f"/><circle cx="623" cy="1470" r="2" class="f"/><rect x="608" y="1478" width="17" height="3" class="k"/>

<!-- ============ LEGEND ============ -->
<g font-size="8">
<circle cx="728" cy="412" r="7" class="f"/><text transform="translate(730,412) rotate(-90)" text-anchor="middle" font-size="6">L</text><text transform="translate(731,400) rotate(-90)" textLength="130" lengthAdjust="spacingAndGlyphs">. левостороннее управление</text>
<circle cx="748" cy="412" r="7" class="f"/><text transform="translate(750,412) rotate(-90)" text-anchor="middle" font-size="6">R</text><text transform="translate(751,400) rotate(-90)" textLength="135" lengthAdjust="spacingAndGlyphs">. правостороннее управление</text>
<circle cx="768" cy="412" r="7" class="f"/><text transform="translate(770,412) rotate(-90)" text-anchor="middle" font-size="5">T1</text><text class="m" transform="translate(768,400) rotate(-90)" textLength="55" lengthAdjust="spacingAndGlyphs">. Fuse block type 1</text><text class="m" transform="translate(776,395) rotate(-90)" textLength="50" lengthAdjust="spacingAndGlyphs">and R.H.D. models</text>
<circle cx="792" cy="412" r="7" class="f"/><text transform="translate(794,412) rotate(-90)" text-anchor="middle" font-size="5">T2</text><text class="m" transform="translate(795,400) rotate(-90)" textLength="55" lengthAdjust="spacingAndGlyphs">. Fuse block type 2</text>
<path class="t" d="M764,343 Q764,338 770,338 H777 Q781,338 781,333 Q781,338 785,338 H792 Q798,338 798,343"/>
<text class="m" transform="translate(780,327) rotate(-90)" textLength="30" lengthAdjust="spacingAndGlyphs">Refer to</text>
<text class="m" transform="translate(788,327) rotate(-90)" textLength="128" lengthAdjust="spacingAndGlyphs">"POWER SUPPLY ROUTING"</text>
<circle cx="813" cy="412" r="7" class="f"/><text transform="translate(815,412) rotate(-90)" text-anchor="middle" font-size="5">DL</text><text transform="translate(816,400) rotate(-90)" textLength="140" lengthAdjust="spacingAndGlyphs">. с системой дневного освещения</text>
<circle cx="832" cy="412" r="7" class="f"/><text transform="translate(834,412) rotate(-90)" text-anchor="middle" font-size="5">PS</text><text transform="translate(835,400) rotate(-90)" textLength="90" lengthAdjust="spacingAndGlyphs">. с сервоуправлением</text>
<circle cx="852" cy="412" r="7" class="f"/><text transform="translate(854,412) rotate(-90)" text-anchor="middle" font-size="5">EP</text><text transform="translate(855,400) rotate(-90)" textLength="95" lengthAdjust="spacingAndGlyphs">. без сервоуправления</text>
<circle cx="873" cy="412" r="7" class="f"/><text transform="translate(875,412) rotate(-90)" text-anchor="middle" font-size="5">GT</text><text transform="translate(876,400) rotate(-90)" textLength="40" lengthAdjust="spacingAndGlyphs">. модель GTi</text>
<circle cx="893" cy="412" r="7" class="f"/><text transform="translate(895,412) rotate(-90)" text-anchor="middle" font-size="6">A</text><text transform="translate(896,400) rotate(-90)" textLength="190" lengthAdjust="spacingAndGlyphs">. с автоматикой ближнего/дальнего света</text>
<circle cx="912" cy="412" r="7" class="f"/><text transform="translate(914,412) rotate(-90)" text-anchor="middle" font-size="6">B</text><text transform="translate(915,400) rotate(-90)" textLength="195" lengthAdjust="spacingAndGlyphs">. без автоматики ближнего/дальнего света</text>
<circle cx="933" cy="412" r="7" class="f"/><text transform="translate(935,412) rotate(-90)" text-anchor="middle" font-size="6">C</text><text transform="translate(936,400) rotate(-90)" textLength="125" lengthAdjust="spacingAndGlyphs">. с регулировкой освещения</text>
<circle cx="953" cy="412" r="7" class="f"/><text transform="translate(955,412) rotate(-90)" text-anchor="middle" font-size="6">D</text><text transform="translate(956,400) rotate(-90)" textLength="130" lengthAdjust="spacingAndGlyphs">. без регулировки освещения</text>
<circle cx="972" cy="412" r="7" class="f"/><text transform="translate(974,412) rotate(-90)" text-anchor="middle" font-size="5">GA</text><text class="m" transform="translate(975,400) rotate(-90)" textLength="95" lengthAdjust="spacingAndGlyphs">. With glass antenna</text>
<circle cx="992" cy="412" r="7" class="f"/><text transform="translate(994,412) rotate(-90)" text-anchor="middle" font-size="5">GH</text><text class="m" transform="translate(995,400) rotate(-90)" textLength="115" lengthAdjust="spacingAndGlyphs">. Without glass antenna</text>
<circle cx="1012" cy="412" r="7" class="f"/><text transform="translate(1014,412) rotate(-90)" text-anchor="middle" font-size="5">ES</text><text class="m" transform="translate(1015,400) rotate(-90)" textLength="220" lengthAdjust="spacingAndGlyphs">. With electrically controlled speaker</text>
<circle cx="1033" cy="412" r="7" class="f"/><text transform="translate(1035,412) rotate(-90)" text-anchor="middle" font-size="5">NS</text><text class="m" transform="translate(1036,400) rotate(-90)" textLength="228" lengthAdjust="spacingAndGlyphs">. Without electrically controlled speaker</text>
</g>

<!-- ============ SUNROOF / SEATS ============ -->
<rect x="695" y="603" width="15" height="38" rx="7" class="f"/><text class="b" transform="translate(705,622) rotate(-90)" text-anchor="middle" font-size="7">BAT</text>
<rect x="715" y="603" width="15" height="38" rx="7" class="f"/><text class="b" transform="translate(725,622) rotate(-90)" text-anchor="middle" font-size="7">IGN1</text>
<g class="w">
<path d="M702,641V662H760 M776,662H827 M857,662H885V690H708V1482"/>
<path d="M722,641V977H740 M761,977H780 M868,977H1023 M780,977V1233H830V1248"/>
<path d="M1023,643V1482"/>
<path d="M952,710H1023 M833,728V703H927 M843,728V718H927"/>
<path d="M862,810V825H717V1482 M872,810V825H1023"/>
<path d="M838,852H917 M947,852H968 M998,852H1023 M838,852V870 M838,900V923 M838,953V990 M890,852V872 M890,902V925 M890,955V980H848V990"/>
<path d="M868,990V977 M863,1070V1082"/>
<path d="M838,1110H917 M947,1110H968 M998,1110H1023 M838,1110V1127 M838,1157V1180 M838,1210V1248 M890,1110V1128 M890,1158V1182 M890,1212V1233H848V1248"/>
<path d="M868,1248V1237H1023 M863,1330V1344"/>
</g>
<circle cx="1023" cy="633" r="10" class="f"/><path d="M1023,623V643" class="w"/>
<rect x="760" y="655" width="16" height="14" class="f"/><path class="t" d="M760,655L776,669 M776,655L760,669"/>
<rect x="827" y="655" width="30" height="22" class="f"/><path d="M832,666H852" stroke="#111" stroke-width="4"/><path class="t" d="M832,660V672 M852,660V672"/>
<text transform="translate(780,637) rotate(180)">предохранитель</text>
<text transform="translate(773,648) rotate(180)">плавкий</text>
<text transform="translate(903,637) rotate(180)">токового контура</text>
<text transform="translate(877,650) rotate(180)">прерыватель</text>
<rect x="927" y="698" width="25" height="25" class="f"/>
<text transform="translate(1000,680) rotate(180)">электрического люка</text>
<text transform="translate(980,692) rotate(180)">выключатель</text>
<rect x="808" y="728" width="70" height="82" class="f"/>
<path class="t" d="M828,728V810 M838,728V810 M848,728V810 M858,728V810 M868,728V810 M828,748H878 M828,768H878 M808,770H878 M828,790H878"/>
<g class="f"><circle cx="833" cy="738" r="3"/><circle cx="863" cy="738" r="3"/><circle cx="843" cy="758" r="3"/><circle cx="873" cy="758" r="3"/><circle cx="843" cy="785" r="3"/><circle cx="863" cy="785" r="3"/><circle cx="853" cy="800" r="3"/><circle cx="873" cy="800" r="3"/></g>
<text class="m" transform="translate(816,808) rotate(-90)" font-size="5">OPEN/</text><text class="m" transform="translate(822,808) rotate(-90)" font-size="5">DOWN</text>
<text class="m" transform="translate(816,765) rotate(-90)" font-size="5">CLOSE/</text><text class="m" transform="translate(822,760) rotate(-90)" font-size="5">UP</text>
<text transform="translate(802,812) rotate(-90)">выключатель люка</text>
<g class="f">
<rect x="917" y="843" width="30" height="19"/><rect x="968" y="843" width="30" height="19"/>
<rect x="829" y="870" width="20" height="30"/><rect x="829" y="923" width="20" height="30"/>
<rect x="880" y="872" width="18" height="30"/><rect x="880" y="925" width="18" height="30"/>
<rect x="917" y="1100" width="30" height="19"/><rect x="968" y="1100" width="30" height="19"/>
<rect x="829" y="1127" width="20" height="30"/><rect x="829" y="1180" width="20" height="30"/>
<rect x="880" y="1128" width="18" height="30"/><rect x="880" y="1182" width="18" height="30"/>
</g>
<g class="t">
<polyline points="921,852 924,848 927,856 930,848 933,856 936,848 939,856 943,852"/><polyline points="972,852 975,848 978,856 981,848 984,856 987,848 990,856 994,852"/>
<polyline points="839,874 835,878 843,882 835,886 843,890 835,894 839,897"/><polyline points="839,927 835,931 843,935 835,939 843,943 835,947 839,950"/>
<polyline points="921,1110 924,1106 927,1114 930,1106 933,1114 936,1106 939,1114 943,1110"/><polyline points="972,1110 975,1106 978,1114 981,1106 984,1114 987,1106 990,1114 994,1110"/>
<polyline points="839,1131 835,1135 843,1139 835,1143 843,1147 835,1151 839,1154"/><polyline points="839,1184 835,1188 843,1192 835,1196 843,1200 835,1204 839,1207"/>
</g>
<path d="M890,876V882H886V892H890V898 M890,929V935H886V945H890V951 M890,1132V1138H886V1148H890V1154 M890,1186V1192H886V1202H890V1208" stroke="#111" stroke-width="3" fill="none"/>
<text transform="translate(816,955) rotate(-90)">подогрев сидений</text>
<text transform="translate(867,950) rotate(-90)">термостат,</text>
<text transform="translate(875,958) rotate(-90)">подогрев сидений</text>
<text transform="translate(936,950) rotate(-90)">подогрев спинок</text>
<text transform="translate(987,950) rotate(-90)">подогрев спинок</text>
<text transform="translate(816,1215) rotate(-90)">подогрев сидений</text>
<text transform="translate(867,1208) rotate(-90)">термостат,</text>
<text transform="translate(875,1216) rotate(-90)">подогрев сидений</text>
<text transform="translate(936,1210) rotate(-90)">подогрев спинок</text>
<text transform="translate(987,1210) rotate(-90)">подогрев спинок</text>
<rect x="740" y="970" width="21" height="14" class="f"/><path class="t" d="M740,984L761,970"/>
<rect x="742" y="950" width="12" height="12" class="f"/><text transform="translate(751,956) rotate(-90)" text-anchor="middle" font-size="7">t</text>
<text class="b" transform="translate(752,1023) rotate(-90)" text-anchor="middle" font-size="13">2</text>
<rect x="813" y="990" width="60" height="80" fill="url(#cel)" stroke="#111" stroke-width="1.8"/>
<rect x="813" y="990" width="12" height="80" class="f"/>
<text class="m" transform="translate(822,1068) rotate(-90)" font-size="5">HI OFF LO</text>
<g class="f"><circle cx="833" cy="1000" r="3"/><circle cx="843" cy="1000" r="3"/><circle cx="863" cy="1000" r="3"/><circle cx="843" cy="1030" r="3"/><circle cx="863" cy="1040" r="3"/><circle cx="833" cy="1062" r="3"/><circle cx="853" cy="1062" r="3"/><circle cx="863" cy="1062" r="3"/></g>
<circle cx="863" cy="1088" r="6" class="f"/><text transform="translate(865,1088) rotate(-90)" text-anchor="middle" font-size="5">A</text>
<path class="t" d="M869,1085L895,1068"/>
<text transform="translate(903,1035) rotate(-90)">индикатор</text>
<text transform="translate(799,1080) rotate(-90)">подогрев правого</text>
<text transform="translate(807,1060) rotate(-90)">сиденья</text>
<rect x="813" y="1248" width="60" height="82" fill="url(#cel)" stroke="#111" stroke-width="1.8"/>
<rect x="813" y="1248" width="12" height="82" class="f"/>
<text class="m" transform="translate(822,1328) rotate(-90)" font-size="5">HI OFF LO</text>
<g class="f"><circle cx="833" cy="1258" r="3"/><circle cx="843" cy="1258" r="3"/><circle cx="863" cy="1258" r="3"/><circle cx="863" cy="1290" r="3"/><circle cx="843" cy="1308" r="3"/><circle cx="833" cy="1322" r="3"/><circle cx="853" cy="1322" r="3"/><circle cx="863" cy="1322" r="3"/></g>
<circle cx="863" cy="1350" r="6" class="f"/><text transform="translate(865,1350) rotate(-90)" text-anchor="middle" font-size="5">A</text>
<path class="t" d="M869,1347L895,1330"/>
<text transform="translate(903,1305) rotate(-90)">индикатор</text>
<text transform="translate(799,1360) rotate(-90)">выключатель подогрева</text>
<text transform="translate(807,1340) rotate(-90)">левого сиденья</text>
<rect x="948" y="1270" width="40" height="95" class="f"/>
<path class="t" d="M958,1270V1365 M968,1270V1365 M978,1270V1365"/>
<g class="m" font-size="5"><text transform="translate(956,1360) rotate(-90)">LOCKED</text><text transform="translate(966,1360) rotate(-90)">UNLOCKED</text><text transform="translate(976,1360) rotate(-90)">LOCKED</text><text transform="translate(986,1360) rotate(-90)">UNLOCKED</text></g>
<path class="w" d="M828,1477V1377H900V1477 M933,1477V1377H1007V1477"/>
<text class="m" transform="translate(814,1448) rotate(-90)" font-size="6">REAR R.H. DOOR</text>
<text class="m" transform="translate(822,1440) rotate(-90)" font-size="6">ACTUATOR</text>
<text class="m" transform="translate(919,1448) rotate(-90)" font-size="6">REAR L.H. DOOR</text>
<text class="m" transform="translate(927,1440) rotate(-90)" font-size="6">ACTUATOR</text>
<rect x="843" y="1387" width="40" height="28" fill="url(#cel)" stroke="#111" stroke-width="1.3"/><rect x="843" y="1387" width="10" height="28" class="f"/>
<rect x="948" y="1387" width="40" height="28" fill="url(#cel)" stroke="#111" stroke-width="1.3"/><rect x="948" y="1387" width="10" height="28" class="f"/>
<g class="w">
<path d="M852,1415V1437V1450 M868,1415V1437 M882,1415V1437V1452 M848,1437H888"/>
<path d="M957,1415V1437V1450 M973,1415V1437 M987,1415V1437V1452 M953,1437H993"/>
</g>
<path d="M848,1437H888 M953,1437H993" stroke="#111" stroke-width="3" stroke-dasharray="2,3" fill="none"/>
<rect x="842" y="1450" width="18" height="22" class="f"/><path d="M846,1455L851,1461L856,1455 M846,1467L851,1461L856,1467" stroke="#111" stroke-width="2.5" fill="none"/>
<rect x="947" y="1450" width="18" height="22" class="f"/><path d="M951,1455L956,1461L961,1455 M951,1467L956,1461L961,1467" stroke="#111" stroke-width="2.5" fill="none"/>
<circle cx="884" cy="1462" r="9" class="f"/><path class="t" d="M879,1466V1458L884,1463L889,1458V1466"/>
<circle cx="989" cy="1462" r="9" class="f"/><path class="t" d="M984,1466V1458L989,1463L994,1458V1466"/>

<!-- ============ RIGHT COLUMN ============ -->
<path class="w" d="M1053,1490V58H1115V1490 M1074,58V1490 M1094,58V1490"/>
<g font-size="8">
<circle cx="1063" cy="405" r="9" class="f"/><text transform="translate(1066,405) rotate(-90)" text-anchor="middle">17</text>
<circle cx="1063" cy="460" r="9" class="f"/><text transform="translate(1066,460) rotate(-90)" text-anchor="middle">27</text>
<circle cx="1063" cy="555" r="9" class="f"/><text transform="translate(1066,555) rotate(-90)" text-anchor="middle">7</text>
<circle cx="1063" cy="685" r="9" class="f"/><text transform="translate(1066,685) rotate(-90)" text-anchor="middle">2</text>
<circle cx="1063" cy="802" r="9" class="f"/><text transform="translate(1066,802) rotate(-90)" text-anchor="middle">19</text>
<circle cx="1063" cy="827" r="9" class="f"/><text transform="translate(1066,827) rotate(-90)" text-anchor="middle">31</text>
<circle cx="1063" cy="852" r="9" class="f"/><text transform="translate(1066,852) rotate(-90)" text-anchor="middle">15</text>
<circle cx="1063" cy="966" r="9" class="f"/><text transform="translate(1066,966) rotate(-90)" text-anchor="middle">11</text>
<circle cx="1063" cy="986" r="9" class="f"/><text transform="translate(1066,986) rotate(-90)" text-anchor="middle">22</text>
<circle cx="1063" cy="1345" r="9" class="f"/><text transform="translate(1066,1345) rotate(-90)" text-anchor="middle">11</text>
<circle cx="1084" cy="183" r="9" class="f"/><text transform="translate(1087,183) rotate(-90)" text-anchor="middle">27</text>
<circle cx="1084" cy="207" r="9" class="f"/><text transform="translate(1087,207) rotate(-90)" text-anchor="middle">1</text>
<circle cx="1084" cy="350" r="9" class="f"/><text transform="translate(1087,350) rotate(-90)" text-anchor="middle">29</text>
<circle cx="1084" cy="405" r="9" class="f"/><text transform="translate(1087,405) rotate(-90)" text-anchor="middle">7</text>
<circle cx="1084" cy="940" r="9" class="f"/><text transform="translate(1087,940) rotate(-90)" text-anchor="middle">24</text>
<circle cx="1084" cy="1040" r="9" class="f"/><text transform="translate(1087,1040) rotate(-90)" text-anchor="middle">26</text>
<circle cx="1084" cy="1233" r="9" class="f"/><text transform="translate(1087,1233) rotate(-90)" text-anchor="middle">31</text>
<circle cx="1084" cy="1375" r="9" class="f"/><text transform="translate(1087,1375) rotate(-90)" text-anchor="middle">27</text>
<circle cx="1084" cy="1418" r="9" class="f"/><text transform="translate(1087,1418) rotate(-90)" text-anchor="middle">24</text>
<circle cx="1084" cy="1460" r="9" class="f"/><text transform="translate(1087,1460) rotate(-90)" text-anchor="middle">25</text>
</g>
<path class="t" d="M1104,1360V1370"/>
</svg>
</body></html>
